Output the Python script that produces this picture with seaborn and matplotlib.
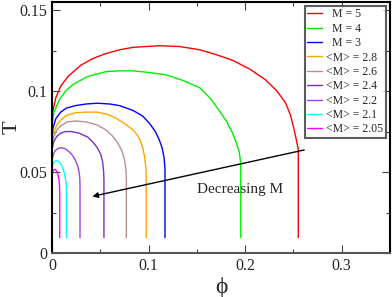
import numpy as np
import pandas as pd
import matplotlib
matplotlib.use("Agg")
import matplotlib.pyplot as plt
import seaborn as sns
from matplotlib.ticker import MultipleLocator, FormatStrFormatter

# curve data: (phi, T) for each M
labels = ["M = 5", "M = 4", "M = 3", "<M> = 2.8", "<M> = 2.6",
          "<M> = 2.4", "<M> = 2.2", "<M> = 2.1", "<M> = 2.05"]
colors = ["#ff0000", "#00ee00", "#0000ff", "#ffa500", "#bc8f8f",
          "#7a30c0", "#a040e8", "#00ffff", "#ff00ff"]

phi_m5 = [0, 0.001, 0.004, 0.009, 0.0165, 0.03, 0.042, 0.055, 0.07, 0.084, 0.111, 0.132,
          0.153, 0.17, 0.187, 0.205, 0.221, 0.233, 0.242, 0.247, 0.25, 0.253, 0.255, 0.255]
T_m5 = [0.08, 0.088, 0.096, 0.103, 0.109, 0.116, 0.12, 0.123, 0.1255, 0.127, 0.128, 0.1275,
        0.1255, 0.1225, 0.119, 0.1135, 0.107, 0.1, 0.0925, 0.085, 0.078, 0.07, 0.064, 0.0095]

phi_m4 = [0, 0.002, 0.008, 0.014, 0.0216, 0.037, 0.056, 0.07, 0.084, 0.1, 0.118, 0.136,
          0.153, 0.164, 0.173, 0.181, 0.187, 0.191, 0.194, 0.1955, 0.1955]
T_m4 = [0.078, 0.087, 0.095, 0.1, 0.104, 0.109, 0.112, 0.1125, 0.1125, 0.1115, 0.11, 0.1065,
        0.102, 0.0955, 0.088, 0.081, 0.074, 0.068, 0.062, 0.055, 0.0095]

phi_m3 = [0, 0.001, 0.004, 0.009, 0.015, 0.024, 0.035, 0.047, 0.06, 0.07, 0.084, 0.094,
          0.101, 0.107, 0.111, 0.114, 0.116, 0.117, 0.117]
T_m3 = [0.072, 0.077, 0.083, 0.087, 0.0895, 0.091, 0.092, 0.0925, 0.092, 0.091, 0.088, 0.0845,
        0.08, 0.075, 0.07, 0.065, 0.059, 0.052, 0.0095]

phi_28 = [0, 0.002, 0.005, 0.009, 0.015, 0.024, 0.035, 0.047, 0.058, 0.067, 0.076, 0.084,
          0.088, 0.091, 0.094, 0.096, 0.0973, 0.0976, 0.0976]
T_28 = [0.07, 0.075, 0.079, 0.082, 0.085, 0.0866, 0.087, 0.087, 0.0855, 0.083, 0.0795, 0.076,
        0.073, 0.07, 0.065, 0.059, 0.052, 0.045, 0.0095]

phi_26 = [0, 0.002, 0.005, 0.009, 0.016, 0.024, 0.035, 0.047, 0.056, 0.063, 0.068, 0.072,
          0.075, 0.0765, 0.077, 0.077]
T_26 = [0.068, 0.072, 0.076, 0.0785, 0.081, 0.0815, 0.081, 0.079, 0.076, 0.072, 0.068, 0.0636,
        0.058, 0.052, 0.045, 0.0095]

phi_24 = [0, 0.002, 0.005, 0.009, 0.014, 0.02, 0.028, 0.037, 0.043, 0.047, 0.0505, 0.0525,
          0.0535, 0.0538, 0.0538]
T_24 = [0.064, 0.069, 0.072, 0.074, 0.075, 0.075, 0.074, 0.0716, 0.068, 0.065, 0.061, 0.056,
        0.05, 0.045, 0.0095]

phi_22 = [0, 0.001, 0.003, 0.006, 0.009, 0.013, 0.017, 0.021, 0.024, 0.0265, 0.028, 0.0288,
          0.029, 0.029]
T_22 = [0.057, 0.06, 0.063, 0.0645, 0.065, 0.0645, 0.063, 0.0605, 0.0575, 0.054, 0.05, 0.046,
        0.041, 0.0095]

phi_21 = [0, 0.001, 0.0025, 0.0045, 0.007, 0.0095, 0.0118, 0.0135, 0.0146, 0.015, 0.015]
T_21 = [0.051, 0.0545, 0.0565, 0.057, 0.0565, 0.0545, 0.0515, 0.0475, 0.043, 0.038, 0.0095]

phi_205 = [0, 0.0007, 0.002, 0.0035, 0.005, 0.0063, 0.0073, 0.0078, 0.008, 0.008]
T_205 = [0.048, 0.0505, 0.0515, 0.0515, 0.0505, 0.048, 0.045, 0.041, 0.037, 0.0095]

phis = [phi_m5, phi_m4, phi_m3, phi_28, phi_26, phi_24, phi_22, phi_21, phi_205]
Ts = [T_m5, T_m4, T_m3, T_28, T_26, T_24, T_22, T_21, T_205]

frames = []
for lab, p, t in zip(labels, phis, Ts):
    frames.append(pd.DataFrame({"phi": p, "T": t, "curve": lab}))
df = pd.concat(frames, ignore_index=True)

sns.set_style("ticks")
plt.rcParams["font.family"] = ["Liberation Serif", "DejaVu Serif"]

fig = plt.figure(figsize=(3.92, 2.97), dpi=100)
ax = fig.add_axes([52 / 392, 44 / 297, 338 / 392, 251 / 297])

sns.lineplot(data=df, x="phi", y="T", hue="curve", hue_order=labels,
             palette=colors, sort=False, estimator=None, lw=1.0, ax=ax)

ax.set_xlim(0, 0.35)
ax.set_ylim(0, 0.155)
ax.xaxis.set_major_locator(MultipleLocator(0.1))
ax.xaxis.set_minor_locator(MultipleLocator(0.05))
ax.yaxis.set_major_locator(MultipleLocator(0.05))
ax.yaxis.set_minor_locator(MultipleLocator(0.025))
ax.xaxis.set_major_formatter(FormatStrFormatter("%g"))
ax.yaxis.set_major_formatter(FormatStrFormatter("%g"))
ax.tick_params(which="both", direction="in", top=True, right=True,
               labelsize=11.5, width=0.8, color="#444444")
ax.tick_params(which="major", length=6)
ax.tick_params(which="minor", length=3)
for s in ax.spines.values():
    s.set_linewidth(1.5)
    s.set_color("black")
ax.spines["bottom"].set_color("#555555")

ax.set_xlabel("ϕ", fontsize=17, labelpad=2)
ax.set_ylabel("T", fontsize=16)
ax.yaxis.set_label_coords(-0.09, 0.5)

# arrow and annotation
ax.annotate("", xy=(0.039, 0.0346), xytext=(0.264, 0.064),
            arrowprops=dict(arrowstyle="-|>", color="black", lw=1.0,
                            mutation_scale=8))
ax.text(0.15, 0.0395, "Decreasing M", fontsize=11, va="center", ha="left")

handles, labs = ax.get_legend_handles_labels()
nice = ["  M = 5", "  M = 4", "  M = 3"] + labels[3:]
leg = ax.legend(handles, nice, loc="upper right", fontsize=8.5,
                frameon=True, fancybox=False, labelspacing=0.2,
                handlelength=1.2, handletextpad=0.4, borderpad=0.25,
                borderaxespad=0.3)
leg.get_frame().set_edgecolor("#333333")
leg.get_frame().set_linewidth(1.5)

fig.savefig("out.png", dpi=100)
